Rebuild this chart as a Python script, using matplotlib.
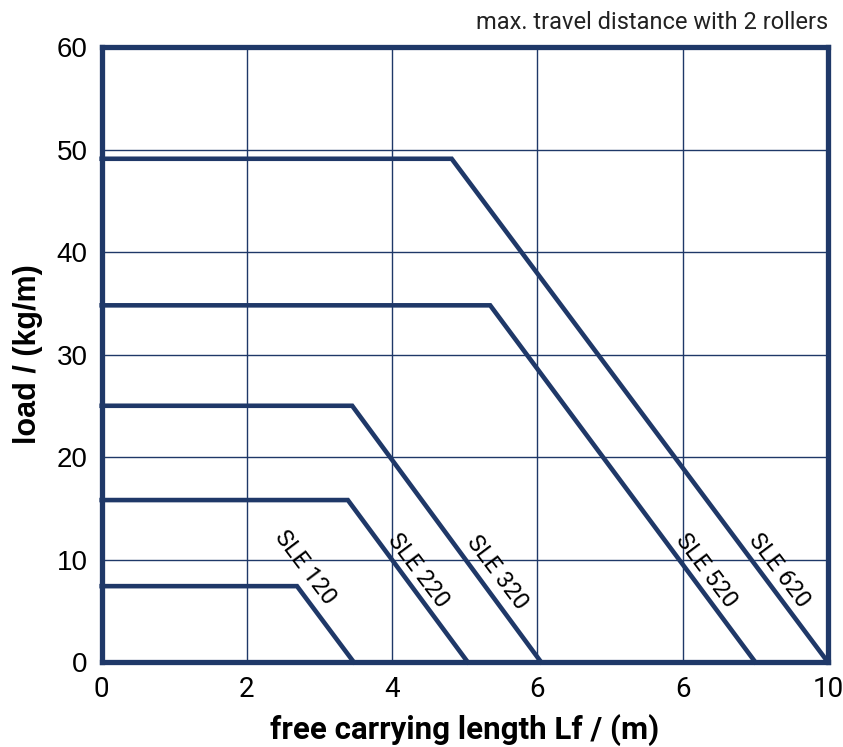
import matplotlib
matplotlib.use("Agg")
import matplotlib.pyplot as plt

# Werte
series_names = ["SLE 120", "SLE 220", "SLE 320", "SLE 520", "SLE 620"]
max_load = [7.4, 15.8, 25.0, 34.8, 49.1]        # kg/m, flacher Abschnitt
knee_length = [2.69, 3.39, 3.45, 5.35, 4.82]    # m, Ende des flachen Abschnitts
max_length = [3.47, 5.04, 6.05, 9.0, 10.0]      # m, Last = 0
label_x = [2.8, 4.36, 5.44, 8.33, 9.33]
label_y = [9.2, 8.9, 8.7, 8.9, 8.9]

x_ticks = [0, 2, 4, 6, 8, 10]
x_tick_labels = ["0", "2", "4", "6", "6", "10"]
y_ticks = [0, 10, 20, 30, 40, 50, 60]

NAVY = "#1f3868"

fig = plt.figure(figsize=(8.43, 7.47), dpi=100)
ax = fig.add_axes([0.1206, 0.1138, 0.8614, 0.8232])

for name, y0, xk, xe, lx, ly in zip(series_names, max_load, knee_length,
                                    max_length, label_x, label_y):
    ax.plot([0, xk, xe], [y0, y0, 0], color=NAVY, lw=3.3,
            solid_joinstyle="miter", clip_on=False, zorder=3)
    ax.text(lx, ly, name, rotation=-53, ha="center", va="center",
            fontsize=17, family="Roboto", color="black", zorder=4)

ax.set_xlim(0, 10)
ax.set_ylim(0, 60)
ax.set_xticks(x_ticks)
ax.set_xticklabels(x_tick_labels)
ax.set_yticks(y_ticks)
ax.grid(True, color=NAVY, lw=1.0)
ax.set_axisbelow(True)
ax.tick_params(length=0, pad=10)
for lab in ax.get_xticklabels():
    lab.set_family("Roboto")
    lab.set_fontsize(20)
for lab in ax.get_yticklabels():
    lab.set_family("Liberation Sans")
    lab.set_fontsize(20)

for sp in ax.spines.values():
    sp.set_color(NAVY)
    sp.set_linewidth(3.8)

ax.set_xlabel("free carrying length Lf / (m)", fontsize=22.5, fontweight="bold",
              family="Roboto", labelpad=8)
ax.set_ylabel("load / (kg/m)", fontsize=22, fontweight="bold",
              family="Liberation Sans", labelpad=10)
ax.text(1.0, 1.022, "max. travel distance with 2 rollers", transform=ax.transAxes,
        ha="right", va="bottom", fontsize=17, family="Roboto", color="#222222")

fig.savefig("out.png", dpi=100)
